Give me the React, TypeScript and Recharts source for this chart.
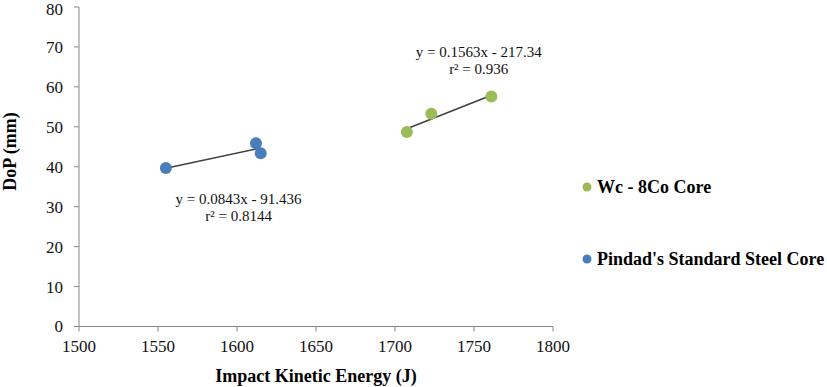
import React from 'react';
import { ScatterChart, Scatter, XAxis, YAxis, ReferenceLine, ReferenceDot, Legend } from 'recharts';

const steelEnergy = [1555, 1612, 1615];
const steelDoP = [39.7, 45.9, 43.4];
const wcEnergy = [1707.5, 1723, 1761];
const wcDoP = [48.7, 53.3, 57.6];
const steelTrend = [
  [1555, 39.65],
  [1615, 44.7],
];
const wcTrend = [
  [1707.5, 49.5],
  [1761, 57.9],
];
const xTicks = [1500, 1550, 1600, 1650, 1700, 1750, 1800];
const yTicks = [0, 10, 20, 30, 40, 50, 60, 70, 80];
const seriesNames = ['Wc - 8Co Core', "Pindad's Standard Steel Core"];
const steelEquation = ['y = 0.0843x - 91.436', 'r² = 0.8144'];
const wcEquation = ['y = 0.1563x - 217.34', 'r² = 0.936'];
const steelLabelAt = [1601, 32];
const wcLabelAt = [1753, 68.8];

const BLUE = '#4a7ebb';
const GREEN = '#9bbb59';
const AXIS = '#868686';
const FONT = '"Liberation Serif", "Times New Roman", serif';

const steelData = steelEnergy.map((x, i) => ({ x, y: steelDoP[i] }));
const wcData = wcEnergy.map((x, i) => ({ x, y: wcDoP[i] }));

const eqLabel = (lines: string[]) => (props: any) => {
  const vb = props.viewBox || {};
  const cx = (vb.x || 0) + (vb.width || 0) / 2;
  const cy = (vb.y || 0) + (vb.height || 0) / 2;
  return (
    <text x={cx} y={cy} textAnchor="middle" style={{ fontFamily: FONT, fontSize: 15 }} fill="#111">
      <tspan x={cx} dy="0.35em">{lines[0]}</tspan>
      <tspan x={cx} dy={17}>{lines[1]}</tspan>
    </text>
  );
};

const XTick = (props: any) => {
  const { x, y, payload } = props;
  return (
    <text x={x} y={y} dy="0.71em" textAnchor="middle" style={{ fontFamily: FONT, fontSize: 17 }} fill="#111">
      {payload.value}
    </text>
  );
};

const YTick = (props: any) => {
  const { x, y, payload } = props;
  return (
    <text x={x} y={y} dy="0.35em" textAnchor="end" style={{ fontFamily: FONT, fontSize: 17 }} fill="#111">
      {payload.value}
    </text>
  );
};

const legendContent = () => {
  const entries = [
    { name: seriesNames[0], color: GREEN },
    { name: seriesNames[1], color: BLUE },
  ];
  return (
    <div style={{ fontFamily: FONT, fontWeight: 'bold', fontSize: 18, color: '#000' }}>
      {entries.map((e, i) => (
        <div
          key={e.name}
          style={{ display: 'flex', alignItems: 'center', height: 24, lineHeight: '24px', marginBottom: i === 0 ? 48.6 : 0, whiteSpace: 'nowrap' }}
        >
          <svg width={10} height={10} style={{ flex: 'none' }}>
            <circle cx={5} cy={5} r={4.5} fill={e.color} />
          </svg>
          <span style={{ marginLeft: 5 }}>{e.name}</span>
        </div>
      ))}
    </div>
  );
};

export default function App() {
  return (
    <div style={{ position: 'absolute', left: 0, top: 0, width: 827, height: 387, background: '#fff' }}>
      <ScatterChart width={827} height={387} margin={{ top: 7, right: 274, bottom: 0, left: 39 }}>
        <XAxis
          type="number"
          dataKey="x"
          domain={[1500, 1800]}
          ticks={xTicks}
          height={60.5}
          axisLine={{ stroke: AXIS }}
          tickLine={{ stroke: AXIS }}
          tickSize={5}
          tickMargin={8}
          tick={<XTick />}
          label={{
            value: 'Impact Kinetic Energy (J)',
            position: 'insideBottom',
            offset: 5.5,
            style: { fontFamily: FONT, fontSize: 18, fontWeight: 'bold', fill: '#000' },
          }}
        />
        <YAxis
          type="number"
          dataKey="y"
          domain={[0, 80]}
          ticks={yTicks}
          width={40}
          axisLine={{ stroke: AXIS }}
          tickLine={{ stroke: AXIS }}
          tickSize={5}
          tickMargin={11}
          tick={<YTick />}
          label={{
            content: () => (
              <text
                x={10}
                y={151.5}
                transform="rotate(-90 10 151.5)"
                textAnchor="middle"
                dy="0.35em"
                style={{ fontFamily: FONT, fontSize: 18, fontWeight: 'bold' }}
                fill="#000"
              >
                DoP (mm)
              </text>
            ),
          }}
        />
        <Scatter name={seriesNames[1]} data={steelData} fill={BLUE} isAnimationActive={false} shape={(p: any) => <circle cx={p.cx} cy={p.cy} r={6} fill={BLUE} />} />
        <Scatter name={seriesNames[0]} data={wcData} fill={GREEN} isAnimationActive={false} shape={(p: any) => <circle cx={p.cx} cy={p.cy} r={6} fill={GREEN} />} />
        <ReferenceLine
          segment={[
            { x: steelTrend[0][0], y: steelTrend[0][1] },
            { x: steelTrend[1][0], y: steelTrend[1][1] },
          ]}
          stroke="#404040"
          strokeWidth={1.5}
        />
        <ReferenceLine
          segment={[
            { x: wcTrend[0][0], y: wcTrend[0][1] },
            { x: wcTrend[1][0], y: wcTrend[1][1] },
          ]}
          stroke="#404040"
          strokeWidth={1.5}
        />
        <ReferenceDot x={steelLabelAt[0]} y={steelLabelAt[1]} r={0} fill="none" stroke="none" label={{ content: eqLabel(steelEquation) }} />
        <ReferenceDot x={wcLabelAt[0]} y={wcLabelAt[1]} r={0} fill="none" stroke="none" label={{ content: eqLabel(wcEquation) }} />
        <Legend
          layout="vertical"
          align="center"
          verticalAlign="middle"
          wrapperStyle={{ left: 582, top: 174.7, width: 245 }}
          content={legendContent}
        />
      </ScatterChart>
    </div>
  );
}
